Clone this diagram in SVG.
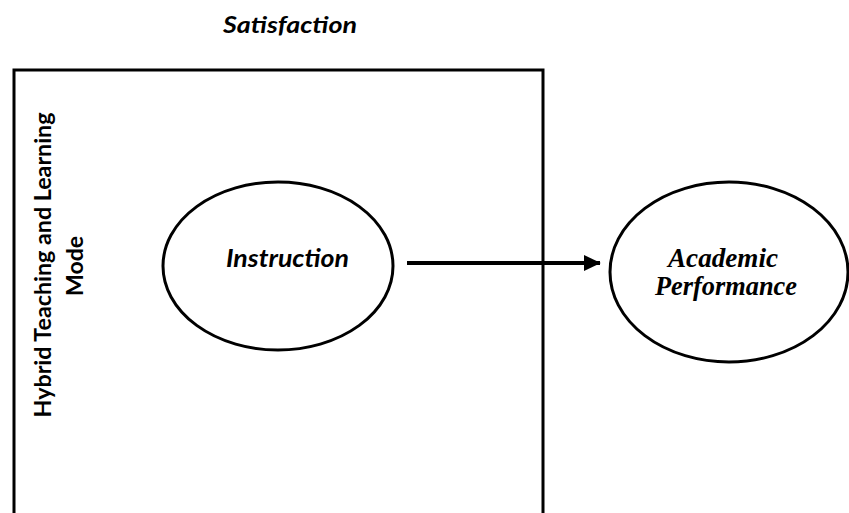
<svg xmlns="http://www.w3.org/2000/svg" width="849" height="513" viewBox="0 0 849 513">
<defs>
<style>
.sans{font-family:"Lato","Open Sans","Liberation Sans",sans-serif;font-weight:bold;fill:#000}
.serif{font-family:"Liberation Serif","Times New Roman",serif;font-weight:bold;font-style:italic;fill:#000}
.shape{fill:#fff;stroke:#000;stroke-width:3}
</style>
<marker id="ah" markerWidth="5" markerHeight="4" refX="4" refY="2" orient="auto" markerUnits="strokeWidth">
<path d="M0,0 L4.2,2 L0,4 Z" fill="#000"/>
</marker>
</defs>
<rect width="849" height="513" fill="#fff"/>
<g id="satisfaction">
<text class="sans" x="290" y="33" font-size="23" font-style="italic" text-anchor="middle" textLength="134" lengthAdjust="spacingAndGlyphs">Satisfaction</text>
</g>
<g id="hybrid-box">
<path class="shape" d="M14,525 L14,70 L543,70 L543,525" fill="none"/>
<text class="sans" transform="translate(51,265) rotate(-90)" font-size="23" text-anchor="middle" textLength="305" lengthAdjust="spacingAndGlyphs">Hybrid Teaching and Learning</text>
<text class="sans" transform="translate(83,266) rotate(-90)" font-size="23" text-anchor="middle" textLength="60" lengthAdjust="spacingAndGlyphs">Mode</text>
</g>
<g id="instruction">
<ellipse class="shape" cx="278" cy="266" rx="115" ry="84"/>
<text class="sans" x="287.5" y="267" font-size="24" font-style="italic" text-anchor="middle" textLength="123" lengthAdjust="spacingAndGlyphs">Instruction</text>
</g>
<g id="academic-performance">
<ellipse class="shape" cx="729" cy="272" rx="119" ry="90"/>
<text class="serif" x="723" y="267" font-size="28" text-anchor="middle" textLength="110" lengthAdjust="spacingAndGlyphs">Academic</text>
<text class="serif" x="726" y="295" font-size="28" text-anchor="middle" textLength="142" lengthAdjust="spacingAndGlyphs">Performance</text>
</g>
<g id="connectors">
<line x1="407" y1="263" x2="600" y2="263" stroke="#000" stroke-width="4" marker-end="url(#ah)"/>
</g>
</svg>
